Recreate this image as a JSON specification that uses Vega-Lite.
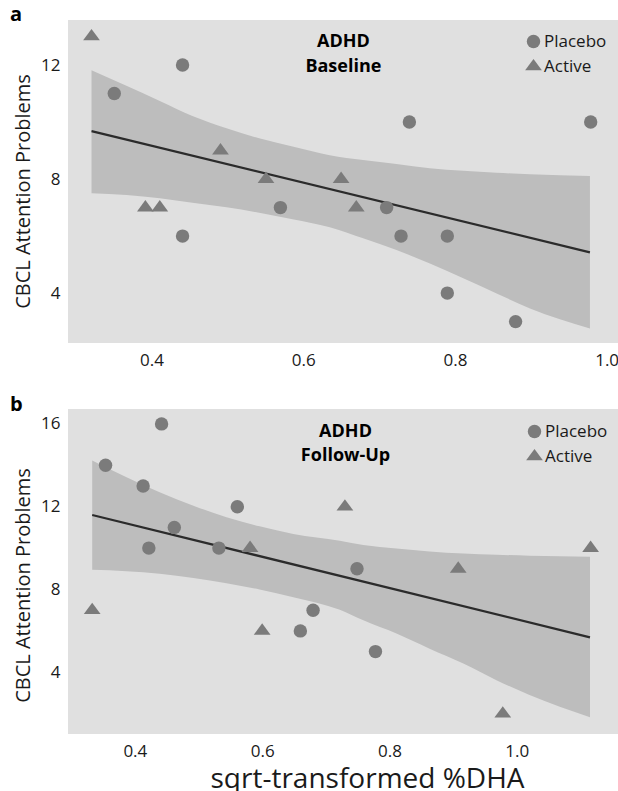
{
  "$schema": "https://vega.github.io/schema/vega-lite/v6.json",
  "padding": {"left": 10, "top": 5, "right": 0, "bottom": 0},
  "background": "white",
  "config": {
    "font": "Open Sans",
    "view": {"fill": "#e0e0e0", "stroke": null},
    "axis": {"grid": false, "domain": false, "ticks": false, "tickSize": 0, "labelFont": "Open Sans", "labelFontSize": 17, "labelColor": "#1a1a1a", "titleFont": "Open Sans", "titleFontWeight": "normal", "titleColor": "#1a1a1a"},
    "legend": {"orient": "none", "title": null, "padding": 0, "labelFont": "Open Sans", "labelFontSize": 17, "labelColor": "#1a1a1a", "symbolSize": 180, "symbolFillColor": "#7b7b7b", "symbolStrokeWidth": 0, "symbolOpacity": 1, "labelOffset": 2, "rowPadding": 7},
    "title": {"font": "Open Sans", "color": "#000000"}
  },
  "datasets": {
    "pts": [
      {"panel": "a", "dha": 0.441, "cbcl": 12, "group": "Placebo"},
      {"panel": "a", "dha": 0.351, "cbcl": 11, "group": "Placebo"},
      {"panel": "a", "dha": 0.74, "cbcl": 10, "group": "Placebo"},
      {"panel": "a", "dha": 0.979, "cbcl": 10, "group": "Placebo"},
      {"panel": "a", "dha": 0.57, "cbcl": 7, "group": "Placebo"},
      {"panel": "a", "dha": 0.71, "cbcl": 7, "group": "Placebo"},
      {"panel": "a", "dha": 0.441, "cbcl": 6, "group": "Placebo"},
      {"panel": "a", "dha": 0.729, "cbcl": 6, "group": "Placebo"},
      {"panel": "a", "dha": 0.79, "cbcl": 6, "group": "Placebo"},
      {"panel": "a", "dha": 0.79, "cbcl": 4, "group": "Placebo"},
      {"panel": "a", "dha": 0.88, "cbcl": 3, "group": "Placebo"},
      {"panel": "a", "dha": 0.321, "cbcl": 13, "group": "Active"},
      {"panel": "a", "dha": 0.491, "cbcl": 9, "group": "Active"},
      {"panel": "a", "dha": 0.551, "cbcl": 8, "group": "Active"},
      {"panel": "a", "dha": 0.65, "cbcl": 8, "group": "Active"},
      {"panel": "a", "dha": 0.392, "cbcl": 7, "group": "Active"},
      {"panel": "a", "dha": 0.411, "cbcl": 7, "group": "Active"},
      {"panel": "a", "dha": 0.67, "cbcl": 7, "group": "Active"},
      {"panel": "b", "dha": 0.442, "cbcl": 16, "group": "Placebo"},
      {"panel": "b", "dha": 0.354, "cbcl": 14, "group": "Placebo"},
      {"panel": "b", "dha": 0.413, "cbcl": 13, "group": "Placebo"},
      {"panel": "b", "dha": 0.561, "cbcl": 12, "group": "Placebo"},
      {"panel": "b", "dha": 0.462, "cbcl": 11, "group": "Placebo"},
      {"panel": "b", "dha": 0.422, "cbcl": 10, "group": "Placebo"},
      {"panel": "b", "dha": 0.532, "cbcl": 10, "group": "Placebo"},
      {"panel": "b", "dha": 0.749, "cbcl": 9, "group": "Placebo"},
      {"panel": "b", "dha": 0.68, "cbcl": 7, "group": "Placebo"},
      {"panel": "b", "dha": 0.66, "cbcl": 6, "group": "Placebo"},
      {"panel": "b", "dha": 0.778, "cbcl": 5, "group": "Placebo"},
      {"panel": "b", "dha": 0.581, "cbcl": 10, "group": "Active"},
      {"panel": "b", "dha": 0.333, "cbcl": 7, "group": "Active"},
      {"panel": "b", "dha": 0.6, "cbcl": 6, "group": "Active"},
      {"panel": "b", "dha": 0.73, "cbcl": 12, "group": "Active"},
      {"panel": "b", "dha": 0.908, "cbcl": 9, "group": "Active"},
      {"panel": "b", "dha": 1.116, "cbcl": 10, "group": "Active"},
      {"panel": "b", "dha": 0.978, "cbcl": 2, "group": "Active"}
    ],
    "band": [
      {"panel": "a", "dha": 0.321, "hi": 11.82, "lo": 7.50},
      {"panel": "a", "dha": 0.367, "hi": 11.27, "lo": 7.44},
      {"panel": "a", "dha": 0.411, "hi": 10.74, "lo": 7.33},
      {"panel": "a", "dha": 0.454, "hi": 10.21, "lo": 7.17},
      {"panel": "a", "dha": 0.499, "hi": 9.78, "lo": 7.01},
      {"panel": "a", "dha": 0.542, "hi": 9.43, "lo": 6.82},
      {"panel": "a", "dha": 0.586, "hi": 9.14, "lo": 6.59},
      {"panel": "a", "dha": 0.635, "hi": 8.84, "lo": 6.31},
      {"panel": "a", "dha": 0.679, "hi": 8.67, "lo": 5.92},
      {"panel": "a", "dha": 0.723, "hi": 8.53, "lo": 5.51},
      {"panel": "a", "dha": 0.767, "hi": 8.38, "lo": 5.04},
      {"panel": "a", "dha": 0.811, "hi": 8.29, "lo": 4.52},
      {"panel": "a", "dha": 0.855, "hi": 8.22, "lo": 3.99},
      {"panel": "a", "dha": 0.899, "hi": 8.17, "lo": 3.46},
      {"panel": "a", "dha": 0.978, "hi": 8.11, "lo": 2.76},
      {"panel": "b", "dha": 0.333, "hi": 14.23, "lo": 8.95},
      {"panel": "b", "dha": 0.387, "hi": 13.42, "lo": 8.88},
      {"panel": "b", "dha": 0.439, "hi": 12.70, "lo": 8.76},
      {"panel": "b", "dha": 0.492, "hi": 12.05, "lo": 8.55},
      {"panel": "b", "dha": 0.544, "hi": 11.49, "lo": 8.30},
      {"panel": "b", "dha": 0.596, "hi": 11.05, "lo": 8.00},
      {"panel": "b", "dha": 0.649, "hi": 10.68, "lo": 7.63},
      {"panel": "b", "dha": 0.722, "hi": 10.36, "lo": 7.02},
      {"panel": "b", "dha": 0.759, "hi": 10.15, "lo": 6.51},
      {"panel": "b", "dha": 0.811, "hi": 9.98, "lo": 5.87},
      {"panel": "b", "dha": 0.863, "hi": 9.84, "lo": 5.14},
      {"panel": "b", "dha": 0.916, "hi": 9.74, "lo": 4.42},
      {"panel": "b", "dha": 0.968, "hi": 9.68, "lo": 3.62},
      {"panel": "b", "dha": 1.020, "hi": 9.63, "lo": 2.90},
      {"panel": "b", "dha": 1.115, "hi": 9.58, "lo": 1.83}
    ],
    "fit": [
      {"panel": "a", "dha": 0.321, "cbcl": 9.68},
      {"panel": "a", "dha": 0.978, "cbcl": 5.43},
      {"panel": "b", "dha": 0.333, "cbcl": 11.60},
      {"panel": "b", "dha": 1.115, "cbcl": 5.69}
    ]
  },
  "resolve": {"scale": {"shape": "independent"}, "legend": {"shape": "independent"}},
  "spacing": 27,
  "vconcat": [
    {
      "width": 550,
      "height": 323,
      "title": {"text": "a", "anchor": "start", "frame": "bounds", "offset": -21, "dx": -3, "baseline": "alphabetic", "fontSize": 20, "fontWeight": "bold"},
      "layer": [
        {
          "data": {"name": "band"},
          "transform": [{"filter": "datum.panel === 'a'"}],
          "mark": {"type": "area", "color": "#bdbdbd", "opacity": 1, "interpolate": "monotone"},
          "encoding": {
            "x": {"field": "dha", "type": "quantitative", "scale": {"domain": [0.29, 1.015], "nice": false, "zero": false}, "axis": {"values": [0.4, 0.6, 0.8, 1.0], "format": ".1f", "labelPadding": 9, "title": null}},
            "y": {"field": "hi", "type": "quantitative", "scale": {"domain": [2.25, 13.58], "nice": false, "zero": false}, "axis": {"values": [4, 8, 12], "labelPadding": 8, "minExtent": 27, "maxExtent": 27, "title": "CBCL Attention Problems", "titleFontSize": 20, "titlePadding": 8, "titleY": 171}},
            "y2": {"field": "lo"}
          }
        },
        {
          "data": {"name": "fit"},
          "transform": [{"filter": "datum.panel === 'a'"}],
          "mark": {"type": "line", "color": "#2b2b2b", "strokeWidth": 2.2},
          "encoding": {
            "x": {"field": "dha", "type": "quantitative"},
            "y": {"field": "cbcl", "type": "quantitative"}
          }
        },
        {
          "data": {"name": "pts"},
          "transform": [{"filter": "datum.panel === 'a'"}],
          "mark": {"type": "point", "filled": true, "opacity": 1, "color": "#7b7b7b", "size": 180, "strokeWidth": 0},
          "encoding": {
            "x": {"field": "dha", "type": "quantitative"},
            "y": {"field": "cbcl", "type": "quantitative"},
            "shape": {"field": "group", "type": "nominal", "scale": {"domain": ["Placebo", "Active"], "range": ["circle", "M-1.25,0.57L1.25,0.57L0,-1.13Z"]}, "legend": {"legendX": 457, "legendY": 13}}
          }
        },
        {
          "data": {"values": [{}]},
          "mark": {"type": "text", "font": "Open Sans", "fontWeight": "bold", "fontSize": 18, "baseline": "alphabetic", "align": "center", "color": "#000000"},
          "encoding": {"x": {"datum": 0.653}, "y": {"datum": 12.62}, "text": {"value": "ADHD"}}
        },
        {
          "data": {"values": [{}]},
          "mark": {"type": "text", "font": "Open Sans", "fontWeight": "bold", "fontSize": 18, "baseline": "alphabetic", "align": "center", "color": "#000000"},
          "encoding": {"x": {"datum": 0.653}, "y": {"datum": 11.77}, "text": {"value": "Baseline"}}
        }
      ]
    },
    {
      "width": 550,
      "height": 325,
      "title": {"text": "b", "anchor": "start", "frame": "bounds", "offset": -22, "dx": -3, "baseline": "alphabetic", "fontSize": 20, "fontWeight": "bold"},
      "layer": [
        {
          "data": {"name": "band"},
          "transform": [{"filter": "datum.panel === 'b'"}],
          "mark": {"type": "area", "color": "#bdbdbd", "opacity": 1, "interpolate": "monotone"},
          "encoding": {
            "x": {"field": "dha", "type": "quantitative", "scale": {"domain": [0.295, 1.159], "nice": false, "zero": false}, "axis": {"values": [0.4, 0.6, 0.8, 1.0], "format": ".1f", "labelPadding": 9, "title": "sqrt-transformed %DHA", "titleFontSize": 28, "titlePadding": 6, "titleX": 299}},
            "y": {"field": "hi", "type": "quantitative", "scale": {"domain": [1.02, 16.72], "nice": false, "zero": false}, "axis": {"values": [4, 8, 12, 16], "labelPadding": 8, "minExtent": 27, "maxExtent": 27, "title": "CBCL Attention Problems", "titleFontSize": 20, "titlePadding": 8, "titleY": 176}},
            "y2": {"field": "lo"}
          }
        },
        {
          "data": {"name": "fit"},
          "transform": [{"filter": "datum.panel === 'b'"}],
          "mark": {"type": "line", "color": "#2b2b2b", "strokeWidth": 2.2},
          "encoding": {
            "x": {"field": "dha", "type": "quantitative"},
            "y": {"field": "cbcl", "type": "quantitative"}
          }
        },
        {
          "data": {"name": "pts"},
          "transform": [{"filter": "datum.panel === 'b'"}],
          "mark": {"type": "point", "filled": true, "opacity": 1, "color": "#7b7b7b", "size": 180, "strokeWidth": 0},
          "encoding": {
            "x": {"field": "dha", "type": "quantitative"},
            "y": {"field": "cbcl", "type": "quantitative"},
            "shape": {"field": "group", "type": "nominal", "scale": {"domain": ["Placebo", "Active"], "range": ["circle", "M-1.25,0.57L1.25,0.57L0,-1.13Z"]}, "legend": {"legendX": 458, "legendY": 14}}
          }
        },
        {
          "data": {"values": [{}]},
          "mark": {"type": "text", "font": "Open Sans", "fontWeight": "bold", "fontSize": 18, "baseline": "alphabetic", "align": "center", "color": "#000000"},
          "encoding": {"x": {"datum": 0.731}, "y": {"datum": 15.35}, "text": {"value": "ADHD"}}
        },
        {
          "data": {"values": [{}]},
          "mark": {"type": "text", "font": "Open Sans", "fontWeight": "bold", "fontSize": 18, "baseline": "alphabetic", "align": "center", "color": "#000000"},
          "encoding": {"x": {"datum": 0.731}, "y": {"datum": 14.23}, "text": {"value": "Follow-Up"}}
        }
      ]
    }
  ]
}
